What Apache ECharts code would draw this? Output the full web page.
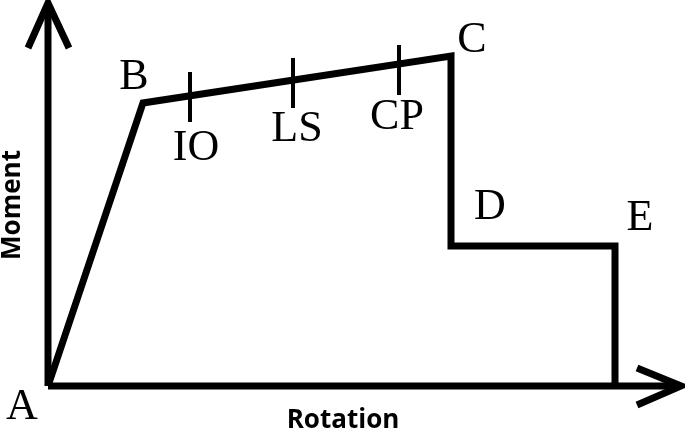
<!DOCTYPE html>
<html><head><meta charset="utf-8">
<script src="https://cdn.jsdelivr.net/npm/echarts@6/dist/echarts.min.js"></script>
<style>html,body{margin:0;padding:0;background:#fff}#c{width:685px;height:433px}</style>
</head><body><div id="c"></div>
<script>
// Backbone curve (rotation, moment), in chart units
const curveRotation = [0, 95, 403, 403, 567, 567];
const curveMoment   = [0, 283, 330, 140, 140, 0];
// Point labels
const pointNames    = ['A', 'B', 'C', 'D', 'E'];
const pointLabelX   = [-26, 86, 424, 442, 592];
const pointLabelY   = [-21, 309, 346, 179, 168];
// Performance levels marked on B-C
const levelNames    = ['IO', 'LS', 'CP'];
const levelRotation = [142, 245, 351];
const levelTickLow  = [264, 278, 291];
const levelTickHigh = [314, 328, 341];
const levelLabelX   = [148, 249, 349];
const levelLabelY   = [238, 257, 269];
// Axis arrows
const yAxisArrow = [[-20, 338], [0, 383], [21, 338]];
const xAxisArrow = [[589, 18], [633, 0], [589, -19]];
const yAxisEnd = 382, xAxisEnd = 632;
// Axis titles
const axisTitles = ['Rotation', 'Moment'];
const axisTitleX = [295, -35];
const axisTitleY = [-35, 181];

const chart = echarts.init(document.getElementById('c'));
const blackLine = (w) => ({ color: '#000', width: w, join: 'miter', cap: 'butt', opacity: 1 });
const lineSeries = (data, w) => ({
  type: 'line', data: data, symbol: 'none', silent: true, animation: false,
  lineStyle: blackLine(w), clip: false
});

const series = [];
series.push(lineSeries([[0, 0], [0, yAxisEnd]], 7));
series.push(lineSeries(yAxisArrow, 7));
series.push(lineSeries([[0, 0], [xAxisEnd, 0]], 7));
series.push(lineSeries(xAxisArrow, 7));
series.push(lineSeries(curveRotation.map((x, i) => [x, curveMoment[i]]), 7));
levelRotation.forEach((x, i) => {
  series.push(lineSeries([[x, levelTickLow[i]], [x, levelTickHigh[i]]], 4));
});
const serifLabel = {
  show: true, position: 'inside', formatter: (p) => p.name, opacity: 1,
  fontFamily: 'Liberation Serif', fontSize: 44, color: '#000'
};
series.push({
  type: 'scatter', symbolSize: 0, silent: true, animation: false, clip: false,
  itemStyle: { opacity: 1, color: '#000' },
  label: serifLabel,
  data: pointNames.map((n, i) => ({ name: n, value: [pointLabelX[i], pointLabelY[i]] }))
    .concat(levelNames.map((n, i) => ({ name: n, value: [levelLabelX[i], levelLabelY[i]] })))
});
series.push({
  type: 'scatter', symbolSize: 0, silent: true, animation: false, clip: false,
  itemStyle: { opacity: 1, color: '#000' },
  data: axisTitles.map((n, i) => ({
    name: n, value: [axisTitleX[i], axisTitleY[i]],
    label: { rotate: i === 1 ? 90 : 0 }
  })),
  label: {
    show: true, position: 'inside', formatter: (p) => p.name, opacity: 1,
    fontFamily: 'Open Sans', fontWeight: 'bold', fontSize: 26, color: '#000'
  }
});

chart.setOption({
  animation: false,
  backgroundColor: '#fff',
  grid: { left: 0, right: 0, top: 0, bottom: 0 },
  xAxis: { type: 'value', min: -48, max: 637, show: false },
  yAxis: { type: 'value', min: -47, max: 386, show: false },
  series: series
});
</script></body></html>
